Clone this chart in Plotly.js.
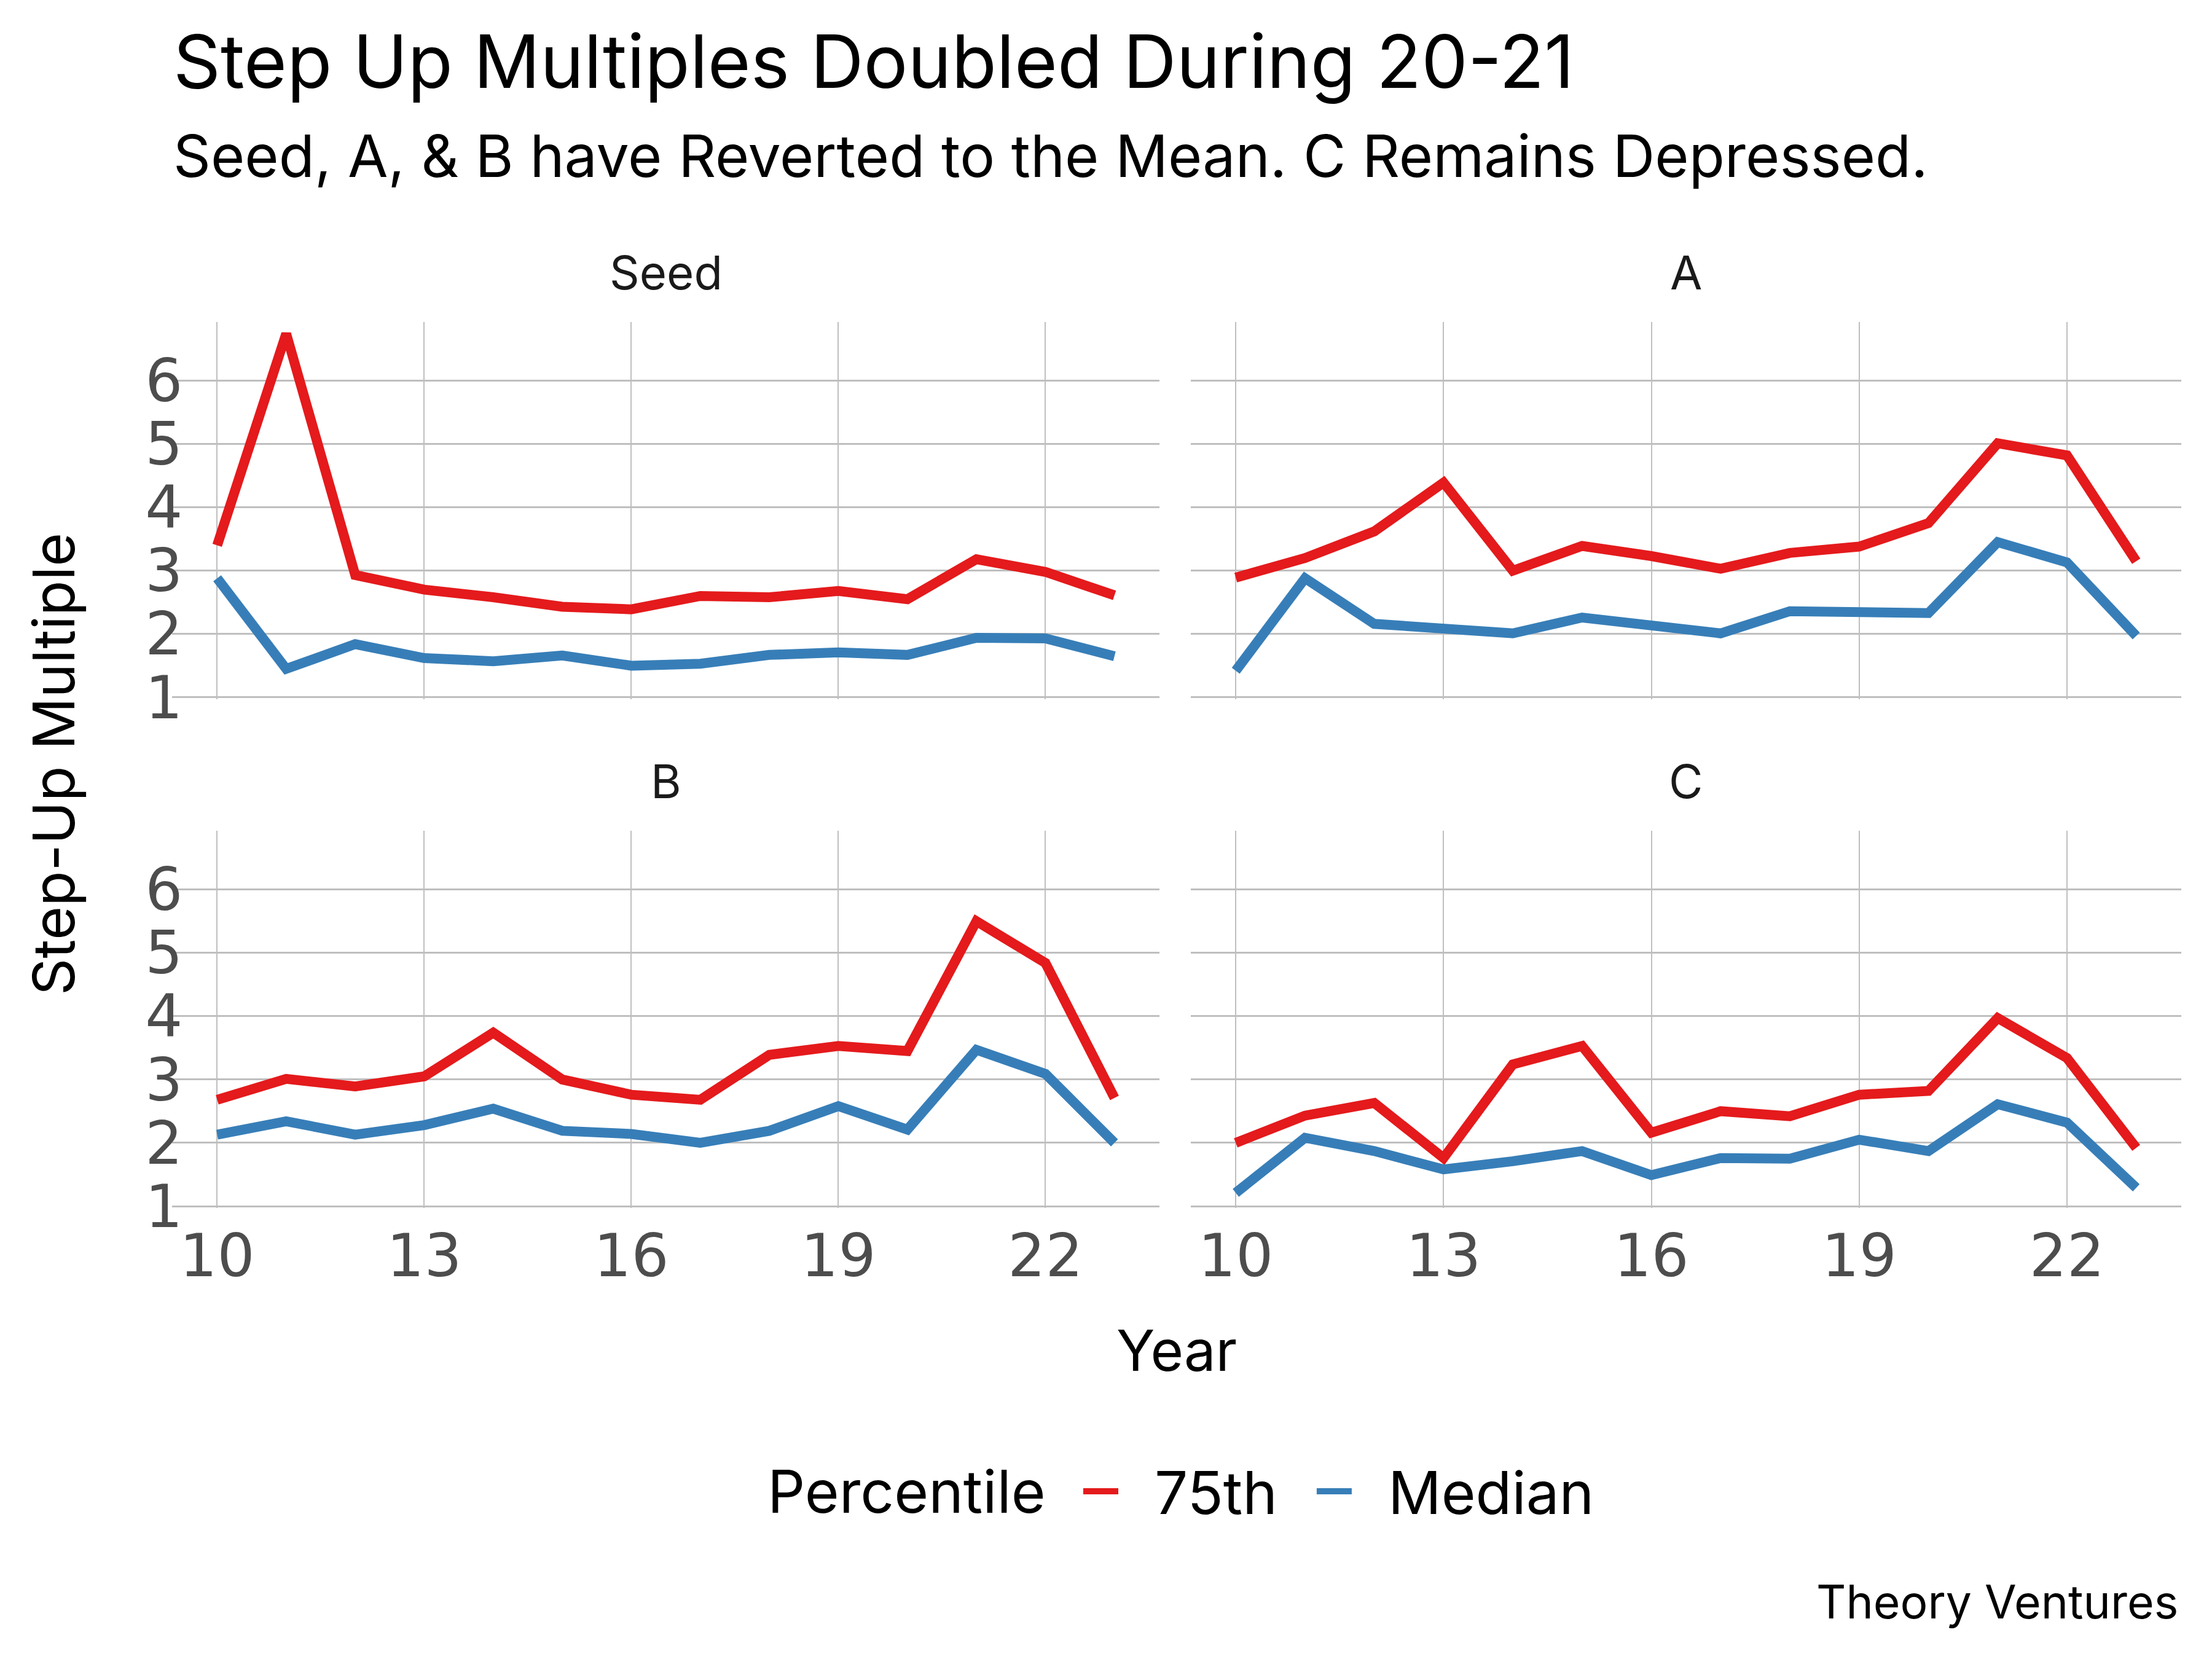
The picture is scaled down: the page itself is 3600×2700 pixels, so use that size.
<!DOCTYPE html>
<html>
<head>
<meta charset="utf-8">
<script src="https://cdn.plot.ly/plotly-3.0.1.min.js"></script>
<style>html,body{margin:0;padding:0;background:#fff;}#chart{width:3600px;height:2700px;}</style>
</head>
<body>
<div id="chart"></div>
<script>
// ---- Data ----
const years = [10, 11, 12, 13, 14, 15, 16, 17, 18, 19, 20, 21, 22, 23];
const stages = ["Seed", "A", "B", "C"];
const seed75 = [3.40, 6.74, 2.93, 2.70, 2.58, 2.43, 2.39, 2.60, 2.58, 2.68, 2.55, 3.18, 2.98, 2.61];
const seedMed = [2.88, 1.45, 1.84, 1.62, 1.57, 1.66, 1.50, 1.53, 1.67, 1.71, 1.67, 1.94, 1.93, 1.65];
const a75 = [2.89, 3.20, 3.62, 4.39, 3.00, 3.39, 3.23, 3.03, 3.28, 3.38, 3.75, 5.01, 4.82, 3.15];
const aMed = [1.42, 2.88, 2.16, 2.10, 2.01, 2.26, 2.12, 2.01, 2.36, 2.35, 2.33, 3.45, 3.13, 1.97];
const b75 = [2.68, 3.01, 2.89, 3.05, 3.74, 3.00, 2.76, 2.68, 3.39, 3.53, 3.45, 5.50, 4.84, 2.71];
const bMed = [2.13, 2.34, 2.13, 2.28, 2.54, 2.19, 2.14, 2.00, 2.19, 2.58, 2.21, 3.47, 3.09, 2.00];
const c75 = [2.00, 2.43, 2.63, 1.76, 3.24, 3.53, 2.16, 2.50, 2.42, 2.76, 2.82, 3.97, 3.34, 1.92];
const cMed = [1.21, 2.08, 1.87, 1.58, 1.71, 1.87, 1.49, 1.76, 1.75, 2.05, 1.87, 2.61, 2.32, 1.29];
const percentiles = ["75th", "Median"];
const xTicks = [10, 13, 16, 19, 22];
const yTicks = [1, 2, 3, 4, 5, 6];

// ---- Styling ----
const RED = "#E41A1C", BLUE = "#377EB8";
const FONT = "Inter, 'Noto Sans', sans-serif";
const TICKFONT = "'DejaVu Sans', sans-serif";
const NB = "\u00A0";
const series = [[seed75, seedMed], [a75, aMed], [b75, bMed], [c75, cMed]];
const traces = [];
series.forEach((pair, i) => {
  const ax = i === 0 ? "" : String(i + 1);
  pair.forEach((vals, j) => {
    traces.push({
      type: "scatter", mode: "lines", x: years, y: vals,
      xaxis: "x" + ax, yaxis: "y" + ax,
      name: NB + NB + percentiles[j] + NB + NB, legendgroup: percentiles[j], showlegend: i === 0,
      line: {color: j === 0 ? RED : BLUE, width: 16},
      hoverinfo: "skip"
    });
  });
});

const xDomL = [0.0779, 0.5241], xDomR = [0.5383, 0.9861];
const yDomT = [0.5787, 0.8061], yDomB = [0.2720, 0.4993];
function xa(dom, showLabels, anchor) {
  return {domain: dom, anchor: anchor, range: [9.35, 23.65], tickvals: xTicks,
    showticklabels: showLabels, showgrid: true, gridcolor: "#bfbfbf", gridwidth: 2,
    zeroline: false, showline: false, ticks: "", ticklabelstandoff: 14,
    tickfont: {family: TICKFONT, size: 96, color: "#4d4d4d"}};
}
function ya(dom, showLabels, anchor) {
  return {domain: dom, anchor: anchor, range: [0.975, 6.93], tickvals: yTicks,
    showticklabels: showLabels, showgrid: true, gridcolor: "#bfbfbf", gridwidth: 3,
    zeroline: false, showline: false, ticks: "", ticklabelstandoff: -18,
    tickfont: {family: TICKFONT, size: 96, color: "#4d4d4d"}};
}
const layout = {
  width: 3600, height: 2700, paper_bgcolor: "#fff", plot_bgcolor: "#fff",
  margin: {l: 0, r: 0, t: 0, b: 0},
  font: {family: FONT, color: "#000"},
  xaxis: xa(xDomL, false, "y"), yaxis: ya(yDomT, true, "x"),
  xaxis2: xa(xDomR, false, "y2"), yaxis2: ya(yDomT, false, "x2"),
  xaxis3: xa(xDomL, true, "y3"), yaxis3: ya(yDomB, true, "x3"),
  xaxis4: xa(xDomR, true, "y4"), yaxis4: ya(yDomB, false, "x4"),
  showlegend: true,
  legend: {orientation: "h", x: 1758 / 3600, xanchor: "left", y: 1 - 2427 / 2700, yanchor: "middle",
    font: {family: FONT, size: 96, color: "#000"},
    itemwidth: 57, bgcolor: "rgba(0,0,0,0)"},
  annotations: [
    {text: "Step Up Multiples Doubled During 20-21", xref: "paper", yref: "paper",
     x: 280 / 3600, y: 1 - 100 / 2700, xanchor: "left", yanchor: "middle", showarrow: false,
     font: {family: FONT, size: 120, color: "#000"}},
    {text: "Seed, A, & B have Reverted to the Mean. C Remains Depressed.", xref: "paper", yref: "paper",
     x: 280 / 3600, y: 1 - 253 / 2700, xanchor: "left", yanchor: "middle", showarrow: false,
     font: {family: FONT, size: 95, color: "#000"}},
    {text: "Percentile", xref: "paper", yref: "paper", x: 1247 / 3600, y: 1 - 2427 / 2700,
     xanchor: "left", yanchor: "middle", showarrow: false, font: {family: FONT, size: 96, color: "#000"}},
    {text: "Year", xref: "paper", yref: "paper", x: 0.532, y: 1 - 2197 / 2700,
     xanchor: "center", yanchor: "middle", showarrow: false, font: {family: FONT, size: 92, color: "#000"}},
    {text: "Step-Up Multiple", xref: "paper", yref: "paper", x: 87 / 3600, y: 1 - 1244 / 2700,
     xanchor: "center", yanchor: "middle", textangle: -90, showarrow: false,
     font: {family: FONT, size: 94, color: "#000"}},
    {text: "Theory Ventures", xref: "paper", yref: "paper", x: 3547 / 3600, y: 1 - 2606 / 2700,
     xanchor: "right", yanchor: "middle", showarrow: false, font: {family: FONT, size: 75, color: "#000"}}
  ]
};
// strip labels
const stripPos = [[xDomL, yDomT], [xDomR, yDomT], [xDomL, yDomB], [xDomR, yDomB]];
stages.forEach((s, i) => {
  const [xd, yd] = stripPos[i];
  layout.annotations.push({text: s, xref: "paper", yref: "paper",
    x: (xd[0] + xd[1]) / 2, y: yd[1] + 0.0300, xanchor: "center", yanchor: "middle",
    showarrow: false, font: {family: FONT, size: 76, color: "#1a1a1a"}});
});
Plotly.newPlot("chart", traces, layout, {staticPlot: true});
</script>
</body>
</html>
